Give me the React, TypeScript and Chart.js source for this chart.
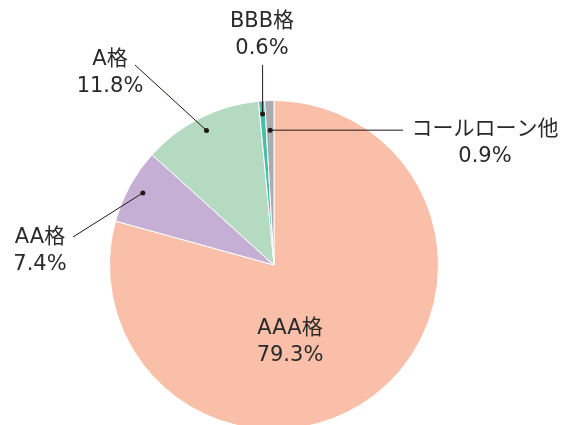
import React, { useEffect, useRef } from "react";
import { Chart, registerables } from "chart.js";

Chart.register(...registerables);

// ---- data ----
const categories = ["AAA格", "AA格", "A格", "BBB格", "コールローン他"];
const shares = [79.3, 7.4, 11.8, 0.6, 0.9];
const valueLabels = ["79.3%", "7.4%", "11.8%", "0.6%", "0.9%"];
const colors = ["#F9BFA8", "#C6AFD5", "#B4DBC2", "#45BFA8", "#AAACAF"];

// ---- label layout (pixels relative to the pie centre) ----
type Layout = {
  dot: number | null; // fraction of outer radius along slice mid-angle
  line: { dx?: number; dy?: number } | null; // line end (missing coord = dot's)
  text: [number, number]; // centre of first text line
};
const labelLayout: Layout[] = [
  { dot: null, line: null, text: [16, 64] },
  { dot: 0.91, line: { dx: -201, dy: -28 }, text: [-234, -27] },
  { dot: 0.915, line: { dx: -139, dy: -200 }, text: [-164, -205] },
  { dot: 0.92, line: { dy: -200 }, text: [-12, -243] },
  { dot: 0.82, line: { dx: 129 }, text: [211, -135] },
];

const FONT = '21px "DejaVu Sans", "Noto Sans CJK JP", sans-serif';
const TEXT_COLOR = "#2a2a2a";
const LINE_GAP = 27;

const labelPlugin = {
  id: "pieLabels",
  afterDatasetsDraw(chart: any) {
    const ctx = chart.ctx as CanvasRenderingContext2D;
    const meta = chart.getDatasetMeta(0);
    ctx.save();
    meta.data.forEach((arc: any, i: number) => {
      const { x, y, startAngle, endAngle, outerRadius } = arc.getProps(
        ["x", "y", "startAngle", "endAngle", "outerRadius"],
        true
      );
      const lay = labelLayout[i];
      const mid = (startAngle + endAngle) / 2;
      if (lay.dot !== null) {
        const px = x + Math.cos(mid) * outerRadius * lay.dot;
        const py = y + Math.sin(mid) * outerRadius * lay.dot;
        if (lay.line) {
          const ex = lay.line.dx !== undefined ? x + lay.line.dx : px;
          const ey = lay.line.dy !== undefined ? y + lay.line.dy : py;
          ctx.strokeStyle = "#231815";
          ctx.lineWidth = 1;
          ctx.beginPath();
          ctx.moveTo(px, py);
          ctx.lineTo(ex, ey);
          ctx.stroke();
        }
        ctx.fillStyle = "#231815";
        ctx.beginPath();
        ctx.arc(px, py, 2.5, 0, Math.PI * 2);
        ctx.fill();
      }
      ctx.font = FONT;
      ctx.fillStyle = TEXT_COLOR;
      ctx.textAlign = "center";
      ctx.textBaseline = "middle";
      const tx = x + lay.text[0];
      const ty = y + lay.text[1];
      ctx.fillText(categories[i], tx, ty);
      ctx.fillText(valueLabels[i], tx, ty + LINE_GAP);
    });
    ctx.restore();
  },
};

export default function App() {
  const ref = useRef<HTMLCanvasElement | null>(null);
  useEffect(() => {
    if (!ref.current) return;
    const chart = new Chart(ref.current, {
      type: "pie",
      data: {
        labels: categories,
        datasets: [
          {
            data: shares,
            backgroundColor: colors,
            borderColor: "#ffffff",
            borderWidth: 1,
          },
        ],
      },
      options: {
        animation: false,
        responsive: false,
        maintainAspectRatio: false,
        layout: { padding: { top: 100, bottom: 30, left: 109, right: 125 } },
        plugins: {
          legend: { display: false },
          tooltip: { enabled: false },
        },
        events: [],
      },
      plugins: [labelPlugin],
    });
    return () => chart.destroy();
  }, []);
  return (
    <div
      style={{
        position: "fixed",
        left: 0,
        top: 0,
        width: 564,
        height: 425,
        overflow: "hidden",
        background: "#ffffff",
      }}
    >
      <canvas ref={ref} width={564} height={460} style={{ display: "block" }} />
    </div>
  );
}
